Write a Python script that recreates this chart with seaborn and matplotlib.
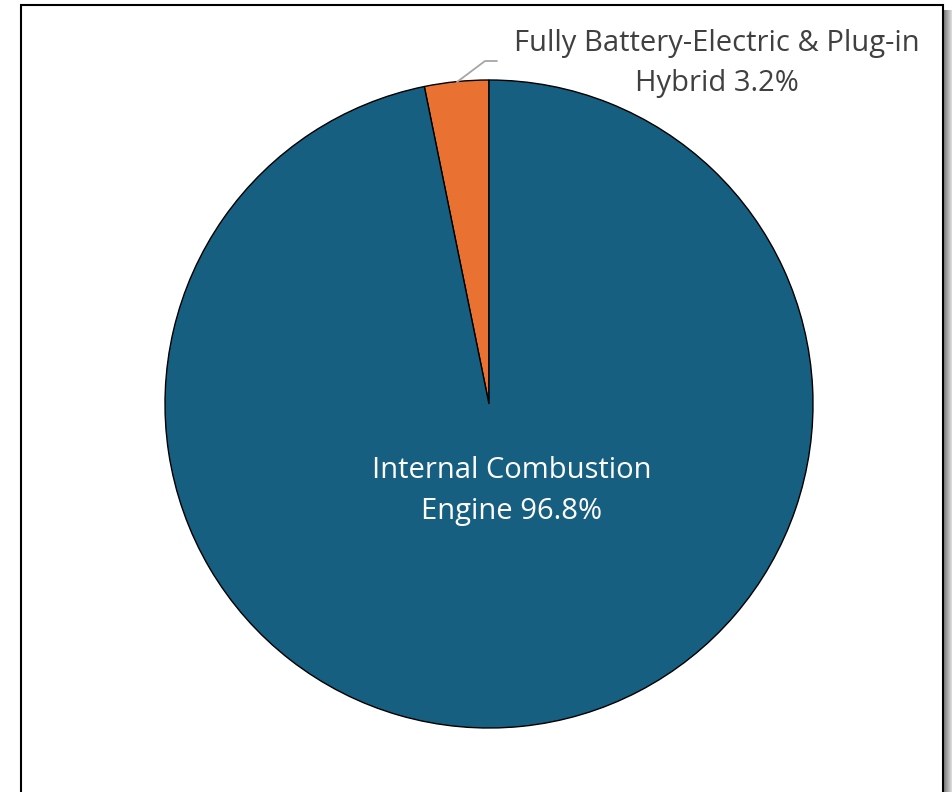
import matplotlib
matplotlib.use("Agg")
import matplotlib.pyplot as plt
import seaborn as sns
from matplotlib.patches import Rectangle
from matplotlib.lines import Line2D

categories = ["Fully Battery-Electric & Plug-in Hybrid", "Internal Combustion Engine"]
shares = [3.2, 96.8]
colors = ["#E97132", "#175F80"]
label_lines = [["Fully Battery-Electric & Plug-in", "Hybrid"], ["Internal Combustion", "Engine"]]

sns.set_theme(style="white")
plt.rcParams["font.family"] = ["Open Sans", "DejaVu Sans"]

W, H = 953, 792
fig = plt.figure(figsize=(W / 100, H / 100), dpi=100)
fig.patch.set_facecolor("white")

# chart frame with a soft drop shadow on the right
for i in range(10):
    fig.patches.append(Rectangle(((944 + i) / W, 0), 1 / W, (H - 10) / H,
                                 transform=fig.transFigure, facecolor="black",
                                 alpha=0.5 * (1 - i / 10), edgecolor="none", zorder=0))
fig.patches.append(Rectangle((21 / W, -0.05), (943 - 21) / W, 1.05 - 5 / H,
                             transform=fig.transFigure, facecolor="white",
                             edgecolor="black", linewidth=1.5, zorder=1))

cx, cy, r = 489, 404, 324
ax = fig.add_axes([(cx - r) / W, (H - cy - r) / H, 2 * r / W, 2 * r / H])
ax.set_zorder(2)
wedges, _ = ax.pie(shares, colors=colors, startangle=90, counterclock=True,
                   radius=1.0, wedgeprops=dict(edgecolor="black", linewidth=1.0))
ax.set_xlim(-1, 1)
ax.set_ylim(-1, 1)
ax.set_aspect("equal")
ax.axis("off")

# inside label for the large slice
ax.text((512 - cx) / r, -(491 - cy) / r,
        f"{label_lines[1][0]}\n{label_lines[1][1]} {shares[1]:.1f}%",
        ha="center", va="center", color="white", fontsize=21, linespacing=1.5)

# outside label for the small slice with leader line
ax.text((717 - cx) / r, -(63 - cy) / r,
        f"{label_lines[0][0]}\n{label_lines[0][1]} {shares[0]:.1f}%",
        ha="center", va="center", color="#404040", fontsize=21, linespacing=1.5)
lx = [(457 - cx) / r, (485 - cx) / r, (497 - cx) / r]
ly = [-(82 - cy) / r, -(61 - cy) / r, -(61 - cy) / r]
ax.add_line(Line2D(lx, ly, color="#A6A6A6", linewidth=1.3, clip_on=False))

fig.savefig("out.png", dpi=100, facecolor="white")
